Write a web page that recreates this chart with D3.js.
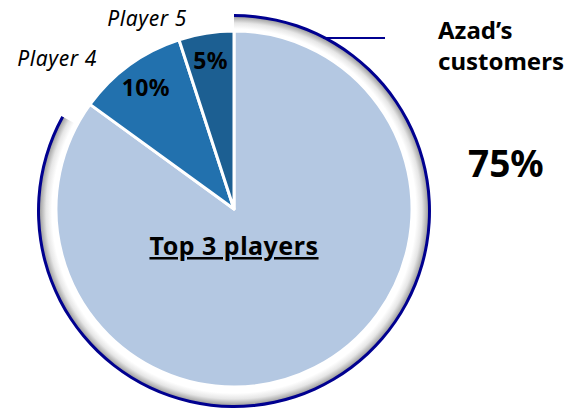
<!DOCTYPE html>
<html>
<head>
<meta charset="utf-8">
<script src="https://cdn.jsdelivr.net/npm/d3@7"></script>
<style>
  body { margin: 0; background: #fff; }
  text { font-family: "Noto Sans", sans-serif; }
</style>
</head>
<body>
<script>
// pie data
let labels = ['Top 3 players', 'Player 4', 'Player 5']
let values = [85, 10, 5]
let pctLabels = ['', '10%', '5%']
let colors = ['#b4c8e2', '#2271ae', '#1c5f92']

// outer ring (Azad's customers), share of the circle it covers as drawn
let ringValues = [83, 17]
let ringLabel = ["Azad\u2019s", 'customers']
let ringPct = '75%'

let w = 570
let h = 409
let cx = 234, cy = 209
let r = 178

let svg = d3.select('body').append('svg').attr('width', w).attr('height', h)

let defs = svg.append('defs')
let grad = defs.append('radialGradient')
  .attr('id', 'ringGrad')
  .attr('gradientUnits', 'userSpaceOnUse')
  .attr('cx', 0).attr('cy', 0).attr('r', 196)
grad.append('stop').attr('offset', 182 / 196).attr('stop-color', '#ffffff')
grad.append('stop').attr('offset', 188 / 196).attr('stop-color', '#e6e6e6')
grad.append('stop').attr('offset', 1).attr('stop-color', '#8c8c8c')

// ring
let ringPie = d3.pie().sort(null)
let ringArcs = ringPie(ringValues)
let ringG = svg.append('g').attr('transform', 'translate(' + cx + ',' + (cy + 2) + ')')
let ringArc = d3.arc().innerRadius(182).outerRadius(195)
let ringEdge = d3.arc().innerRadius(194).outerRadius(197)
ringG.append('path').attr('d', ringArc(ringArcs[0])).attr('fill', 'url(#ringGrad)')
ringG.append('path').attr('d', ringEdge(ringArcs[0])).attr('fill', '#000090')

// pie
let pie = d3.pie().sort(null)
let arc = d3.arc().innerRadius(0).outerRadius(r)
let labelArc = d3.arc().innerRadius(150).outerRadius(150)

let g = svg.append('g').attr('transform', 'translate(' + cx + ',' + cy + ')')
let arcs = g.selectAll('g.arc')
  .data(pie(values))
  .enter()
  .append('g')
  .attr('class', 'arc')

arcs.append('path')
  .attr('d', arc)
  .attr('fill', (d, i) => colors[i])
  .attr('stroke', '#fff')
  .attr('stroke-width', 3)
  .attr('stroke-linejoin', 'round')

arcs.append('text')
  .attr('transform', d => 'translate(' + labelArc.centroid(d) + ')')
  .attr('text-anchor', 'middle')
  .attr('dy', '0.35em')
  .attr('font-size', 23)
  .attr('letter-spacing', 0.3)
  .attr('font-weight', 'bold')
  .attr('fill', '#000')
  .text((d, i) => pctLabels[i])

// big slice label
svg.append('text')
  .attr('x', 234).attr('y', 255)
  .attr('text-anchor', 'middle')
  .attr('font-size', 25)
  .attr('letter-spacing', 0.5)
  .attr('font-weight', 'bold')
  .attr('text-decoration', 'underline')
  .text(labels[0])

// outside player labels
svg.append('text')
  .attr('x', 97).attr('y', 66)
  .attr('text-anchor', 'end')
  .attr('font-size', 21)
  .attr('letter-spacing', 0.6)
  .attr('font-style', 'italic')
  .text(labels[1])

svg.append('text')
  .attr('x', 187).attr('y', 26)
  .attr('text-anchor', 'end')
  .attr('font-size', 21)
  .attr('letter-spacing', 0.6)
  .attr('font-style', 'italic')
  .text(labels[2])

// ring callout
svg.append('line')
  .attr('x1', 323).attr('y1', 38)
  .attr('x2', 385).attr('y2', 38)
  .attr('stroke', '#000090')
  .attr('stroke-width', 2)

svg.append('text')
  .attr('x', 438).attr('y', 39)
  .attr('font-family', 'Liberation Sans, Arial, sans-serif')
  .attr('font-size', 24)
  .attr('font-weight', 'bold')
  .text(ringLabel[0])

svg.append('text')
  .attr('x', 438).attr('y', 70)
  .attr('font-family', 'Liberation Sans, Arial, sans-serif')
  .attr('font-size', 24)
  .attr('font-weight', 'bold')
  .text(ringLabel[1])

svg.append('text')
  .attr('x', 468).attr('y', 177)
  .attr('font-family', 'Liberation Sans, Arial, sans-serif')
  .attr('font-size', 37)
  .attr('font-weight', 'bold')
  .text(ringPct)
</script>
</body>
</html>
